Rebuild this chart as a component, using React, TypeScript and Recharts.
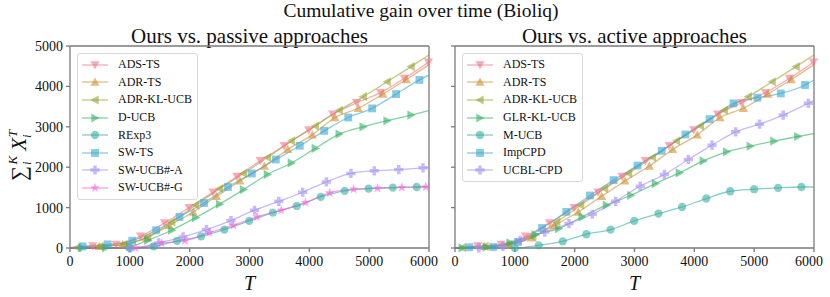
import React from "react";
import { LineChart, Line, XAxis, YAxis, ReferenceLine } from "recharts";

type Pt = [number, number];

// x axis (T) and y axis (cumulative gain) ticks
const tTicks = [0, 1000, 2000, 3000, 4000, 5000, 6000];
const gainTicks = [0, 1000, 2000, 3000, 4000, 5000];

// [T, gain] – at the marker positions
const adsTs: Pt[] = [[0, 10], [380, 50], [770, 90], [1180, 290], [1580, 620], [1990, 1000], [2390, 1380], [2790, 1770], [3180, 2160], [3580, 2530], [3990, 2920], [4390, 3310], [4790, 3595], [5190, 3845], [5590, 4200], [5990, 4600]];
const adrTs: Pt[] = [[0, 0], [490, 40], [880, 85], [1270, 250], [1660, 560], [2060, 890], [2450, 1280], [2840, 1660], [3250, 2030], [3640, 2440], [4050, 2800], [4430, 3230], [4820, 3460], [5230, 3810], [5620, 4170], [6000, 4540]];
const adrKlUcb: Pt[] = [[0, 0], [120, 10], [500, 40], [900, 90], [1300, 270], [1700, 645], [2100, 1060], [2500, 1470], [2900, 1845], [3300, 2240], [3700, 2650], [4100, 3020], [4500, 3410], [4900, 3745], [5300, 4115], [5700, 4490], [6000, 4780]];
const dUcb: Pt[] = [[0, 0], [200, 0], [600, 5], [1000, 40], [1300, 190], [1700, 440], [2100, 750], [2500, 1085], [2900, 1445], [3300, 1820], [3700, 2105], [4100, 2465], [4500, 2820], [4900, 3000], [5300, 3150], [5700, 3290], [6000, 3400]];
const rexp3: Pt[] = [[0, 0], [1000, 0], [1400, 40], [1790, 175], [2190, 290], [2580, 455], [2995, 670], [3390, 875], [3790, 1040], [4190, 1265], [4590, 1415], [4990, 1470], [5395, 1495], [5795, 1510], [6000, 1515]];
const swTs: Pt[] = [[0, 0], [210, 40], [630, 90], [1040, 180], [1440, 440], [1830, 770], [2240, 1115], [2640, 1510], [3040, 1845], [3440, 2190], [3840, 2530], [4250, 2900], [4650, 3230], [5050, 3455], [5450, 3810], [5840, 4160], [6000, 4280]];
const swUcbA: Pt[] = [[0, 0], [1000, 0], [1480, 125], [1890, 275], [2280, 455], [2690, 680], [3085, 935], [3490, 1155], [3890, 1380], [4285, 1635], [4695, 1845], [5085, 1910], [5495, 1940], [5900, 1985], [6000, 1990]];
const swUcbG: Pt[] = [[0, 0], [1100, 0], [1530, 125], [1920, 180], [2330, 380], [2730, 560], [3125, 770], [3530, 935], [3935, 1125], [4340, 1365], [4740, 1455], [5140, 1480], [5545, 1500], [5945, 1510], [6000, 1512]];

const glrKlUcb: Pt[] = [[0, 0], [120, 5], [520, 20], [920, 130], [1340, 330], [1735, 480], [2125, 770], [2530, 1060], [2940, 1305], [3350, 1595], [3750, 1860], [4150, 2155], [4540, 2380], [4935, 2520], [5330, 2645], [5730, 2760], [6000, 2830]];
const mUcb: Pt[] = [[0, 0], [1000, 0], [1400, 65], [1800, 165], [2195, 340], [2600, 455], [2995, 670], [3400, 850], [3795, 1015], [4200, 1225], [4600, 1405], [5000, 1455], [5400, 1490], [5790, 1510], [6000, 1510]];
const impCpd: Pt[] = [[0, 0], [240, 20], [640, 25], [1050, 150], [1455, 495], [1860, 895], [2255, 1300], [2650, 1680], [3050, 2040], [3455, 2405], [3850, 2810], [4255, 3190], [4655, 3580], [5055, 3720], [5445, 3825], [5850, 4035], [6000, 4160]];
const ucblCpd: Pt[] = [[0, 0], [400, 5], [800, 40], [1090, 190], [1500, 395], [1905, 605], [2295, 835], [2685, 1155], [3095, 1530], [3500, 1820], [3900, 2190], [4295, 2545], [4690, 2875], [5090, 3065], [5485, 3290], [5905, 3580], [6000, 3650]];

const passiveNames = ["ADS-TS", "ADR-TS", "ADR-KL-UCB", "D-UCB", "RExp3", "SW-TS", "SW-UCB#-A", "SW-UCB#-G"];
const passiveValues = [adsTs, adrTs, adrKlUcb, dUcb, rexp3, swTs, swUcbA, swUcbG];
const activeNames = ["ADS-TS", "ADR-TS", "ADR-KL-UCB", "GLR-KL-UCB", "M-UCB", "ImpCPD", "UCBL-CPD"];
const activeValues = [adsTs, adrTs, adrKlUcb, glrKlUcb, mUcb, impCpd, ucblCpd];

// seaborn husl palette + matplotlib markers
const colors = ["#f77189", "#ce9032", "#97a431", "#32b166", "#36ada4", "#39a7d0", "#a48cf4", "#f561dd"];
const shapes = ["down", "up", "left", "right", "circle", "square", "plus", "star"];

const FONT = "'Liberation Serif', 'DejaVu Serif', serif";
const AXIS = "#7a7a7a";
const ALPHA = 0.6;

function Marker({ shape, cx, cy, color }: { shape: string; cx: number; cy: number; color: string }) {
  const s = 4.6;
  const common = { fill: color, fillOpacity: ALPHA, stroke: "none" };
  switch (shape) {
    case "down":
      return <polygon {...common} points={`${cx - s},${cy - s * 0.8} ${cx + s},${cy - s * 0.8} ${cx},${cy + s}`} />;
    case "up":
      return <polygon {...common} points={`${cx - s},${cy + s * 0.8} ${cx + s},${cy + s * 0.8} ${cx},${cy - s}`} />;
    case "left":
      return <polygon {...common} points={`${cx - s},${cy} ${cx + s * 0.8},${cy - s} ${cx + s * 0.8},${cy + s}`} />;
    case "right":
      return <polygon {...common} points={`${cx + s},${cy} ${cx - s * 0.8},${cy - s} ${cx - s * 0.8},${cy + s}`} />;
    case "circle":
      return <circle {...common} cx={cx} cy={cy} r={s * 0.9} />;
    case "square":
      return <rect {...common} x={cx - s * 0.85} y={cy - s * 0.85} width={s * 1.7} height={s * 1.7} />;
    case "plus": {
      const w = s * 0.38;
      const l = s;
      return (
        <polygon
          {...common}
          points={`${cx - w},${cy - l} ${cx + w},${cy - l} ${cx + w},${cy - w} ${cx + l},${cy - w} ${cx + l},${cy + w} ${cx + w},${cy + w} ${cx + w},${cy + l} ${cx - w},${cy + l} ${cx - w},${cy + w} ${cx - l},${cy + w} ${cx - l},${cy - w} ${cx - w},${cy - w}`}
        />
      );
    }
    default: {
      const pts: string[] = [];
      for (let i = 0; i < 10; i++) {
        const r = i % 2 === 0 ? s * 1.1 : s * 0.45;
        const a = -Math.PI / 2 + (i * Math.PI) / 5;
        pts.push(`${cx + r * Math.cos(a)},${cy + r * Math.sin(a)}`);
      }
      return <polygon {...common} points={pts.join(" ")} />;
    }
  }
}

const makeDot = (shape: string, color: string) => (p: any) => {
  const t = p.payload?.t;
  if (t === 0 || t === 6000 || p.cx == null) return <g key={p.index} />;
  return (
    <g key={p.index}>
      <Marker shape={shape} cx={p.cx} cy={p.cy} color={color} />
    </g>
  );
};

const LegendBox = ({ names, left }: { names: string[]; left: number }) => (
  <div
    style={{
      position: "absolute",
      left,
      top: 53,
      border: "1px solid #d8d8d8",
      borderRadius: 3,
      background: "rgba(255,255,255,0.8)",
      padding: "2px 5px 2px 3px",
      fontFamily: FONT,
      fontSize: 12,
      color: "#111",
    }}
  >
    {names.map((n, i) => (
      <div key={n} style={{ display: "flex", alignItems: "center", height: 17.6 }}>
        <svg width={28} height={12} style={{ marginRight: 9 }}>
          <line x1={1} x2={27} y1={6} y2={6} stroke={colors[i]} strokeOpacity={ALPHA} strokeWidth={1.3} />
          <Marker shape={shapes[i]} cx={14} cy={6} color={colors[i]} />
        </svg>
        <span style={{ whiteSpace: "nowrap" }}>{n}</span>
      </div>
    ))}
  </div>
);

const SumLabel = ({ viewBox }: any) => {
  const x = 26;
  const y = viewBox.y + viewBox.height / 2;
  return (
    <text transform={`rotate(-90, ${x}, ${y})`} x={x - 34} y={y} fontFamily={FONT} fontSize={21} fill="#111">
      <tspan>∑</tspan>
      <tspan fontSize={13} fontStyle="italic" dy={5} dx={1}>i</tspan>
      <tspan fontSize={13} fontStyle="italic" dy={-14} dx={-3}>K</tspan>
      <tspan fontStyle="italic" dy={9} dx={5}>X</tspan>
      <tspan fontSize={13} fontStyle="italic" dy={5} dx={0}>i</tspan>
      <tspan fontSize={13} fontStyle="italic" dy={-14} dx={-3}>T</tspan>
    </text>
  );
};

const TLabel = ({ viewBox }: any) => (
  <text x={viewBox.x + viewBox.width / 2} y={290} textAnchor="middle" fontFamily={FONT} fontSize={20} fontStyle="italic" fill="#111">
    T
  </text>
);

const XTick = ({ x, y, payload }: any) => (
  <text x={x} y={y} dy="0.75em" textAnchor="middle" fontFamily={FONT} fontSize={14} fill="#111">
    {payload.value}
  </text>
);

const YTick = ({ x, y, payload }: any) => (
  <text x={x} y={y} dy="0.35em" textAnchor="end" fontFamily={FONT} fontSize={14} fill="#111">
    {payload.value}
  </text>
);

const NoTick = () => <g />;

function Panel({
  names,
  values,
  left,
  width,
  yWidth,
  showY,
}: {
  names: string[];
  values: Pt[][];
  left: number;
  width: number;
  yWidth: number;
  showY: boolean;
}) {
  return (
    <div style={{ position: "absolute", left, top: 0 }}>
      <LineChart width={width} height={297} margin={{ top: 46, right: 11, left: 0, bottom: 14 }}>
        <XAxis
          dataKey="t"
          type="number"
          domain={[0, 6000]}
          ticks={tTicks}
          height={35}
          tickSize={4}
          tickMargin={3}
          tick={<XTick />}
          stroke={AXIS}
          strokeWidth={1.3}
          label={<TLabel />}
        />
        <YAxis
          type="number"
          domain={[0, 5000]}
          ticks={gainTicks}
          width={yWidth}
          tickSize={4}
          tickMargin={3}
          tick={showY ? <YTick /> : <NoTick />}
          stroke={AXIS}
          strokeWidth={1.3}
          label={showY ? <SumLabel /> : undefined}
        />
        <ReferenceLine y={5000} stroke={AXIS} strokeWidth={1.3} />
        <ReferenceLine x={6000} stroke={AXIS} strokeWidth={1.3} />
        {values.map((pts, i) => (
          <Line
            key={names[i]}
            name={names[i]}
            data={pts.map(([t, v]) => ({ t, v }))}
            dataKey="v"
            type="monotone"
            stroke={colors[i]}
            strokeOpacity={ALPHA}
            strokeWidth={1.3}
            dot={makeDot(shapes[i], colors[i])}
            activeDot={false}
            isAnimationActive={false}
          />
        ))}
      </LineChart>
      <LegendBox names={names} left={yWidth + 7} />
    </div>
  );
}

export default function App() {
  return (
    <div style={{ position: "absolute", left: 0, top: 0, width: 830, height: 297, background: "#fff" }}>
      <div style={{ position: "absolute", left: 6, width: 830, top: 0, textAlign: "center", fontFamily: FONT, fontSize: 19.5, color: "#111" }}>
        Cumulative gain over time (Bioliq)
      </div>
      <div style={{ position: "absolute", left: 70, width: 359, top: 24, textAlign: "center", fontFamily: FONT, fontSize: 21, color: "#111" }}>
        Ours vs. passive approaches
      </div>
      <div style={{ position: "absolute", left: 455, width: 359, top: 24, textAlign: "center", fontFamily: FONT, fontSize: 21, color: "#111" }}>
        Ours vs. active approaches
      </div>
      <Panel names={passiveNames} values={passiveValues} left={0} width={440} yWidth={70} showY />
      <Panel names={activeNames} values={activeValues} left={440} width={385} yWidth={15} showY={false} />
    </div>
  );
}
